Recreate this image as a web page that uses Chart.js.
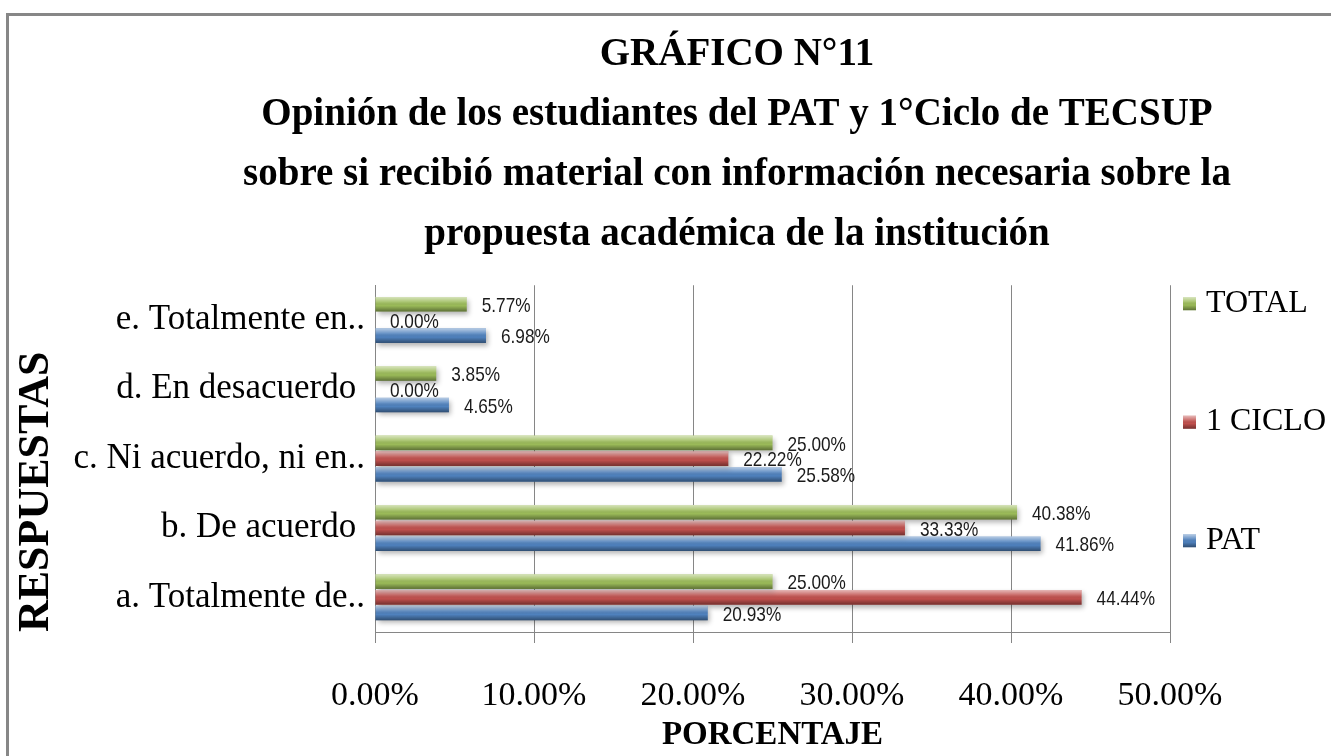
<!DOCTYPE html>
<html lang="es">
<head>
<meta charset="utf-8">
<title>Gráfico N°11</title>
<script src="https://cdn.jsdelivr.net/npm/chart.js@4.4.1/dist/chart.umd.min.js"></script>
<style>
  html, body { margin: 0; padding: 0; background: #fff; overflow: hidden; }
  .marco { position: absolute; left: 6px; top: 13px; border-top: 3px solid #878787; border-left: 3px solid #878787; }
  canvas { display: block; }
</style>
</head>
<body>
<div class="marco"><canvas id="grafico" width="1456" height="760"></canvas></div>
<script>
// datos del gráfico (de arriba hacia abajo, como en la figura)
const TITULO = [
  'GRÁFICO N°11',
  'Opinión de los estudiantes del PAT y 1°Ciclo de TECSUP',
  'sobre si recibió material con información necesaria sobre la',
  'propuesta académica de la institución'
];
const RESPUESTAS = ['e. Totalmente en..', 'd. En desacuerdo ', 'c. Ni acuerdo, ni en..', 'b. De acuerdo ', 'a. Totalmente de..'];
const SERIES = ['TOTAL', '1 CICLO', 'PAT'];
const TOTAL = [5.77, 3.85, 25.00, 40.38, 25.00];
const CICLO1 = [0.00, 0.00, 22.22, 33.33, 44.44];
const PAT = [6.98, 4.65, 25.58, 41.86, 20.93];
const TICKS_X = [0, 10, 20, 30, 40, 50];
const COLORES = ['#9bbb59', '#c0504d', '#4f81bd'];

const SERIF = "'Liberation Serif', 'Times New Roman', serif";
const SANS = "'Liberation Sans', Arial, sans-serif";

// brillo tipo Office 2007 encima de una barra
function brillo(c, x0, top, w, h) {
  const g = c.createLinearGradient(0, top, 0, top + h);
  g.addColorStop(0, 'rgba(255,255,255,.6)');
  g.addColorStop(.35, 'rgba(255,255,255,.15)');
  g.addColorStop(.6, 'rgba(0,0,0,0)');
  g.addColorStop(1, 'rgba(0,0,0,.4)');
  c.fillStyle = g;
  c.fillRect(x0, top, w, h);
}

const relieve = {
  id: 'relieve',
  beforeDatasetsDraw(chart) {
    const c = chart.ctx;
    c.save();
    c.shadowColor = 'rgba(0,0,0,.3)';
    c.shadowBlur = 5;
    c.shadowOffsetX = 2;
    c.shadowOffsetY = 3;
  },
  afterDatasetsDraw(chart) {
    const c = chart.ctx;
    c.restore();
    c.save();
    chart.data.datasets.forEach((ds, i) => {
      chart.getDatasetMeta(i).data.forEach(bar => {
        const { x, y, base, height } = bar.getProps(['x', 'y', 'base', 'height'], true);
        if (x - base >= 1) brillo(c, base, y - height / 2, x - base, height);
      });
    });
    // etiquetas de valor (letra estrecha como en el original)
    c.font = '21px ' + SANS;
    c.fillStyle = '#1a1a1a';
    c.textAlign = 'left';
    c.textBaseline = 'middle';
    chart.data.datasets.forEach((ds, i) => {
      chart.getDatasetMeta(i).data.forEach((bar, j) => {
        c.save();
        c.translate(bar.x + 15, bar.y + 2);
        c.scale(0.82, 1);
        c.fillText(ds.data[j].toFixed(2) + '%', 0, 0);
        c.restore();
      });
    });
    c.restore();
  }
};

// leyenda a la derecha, espaciada como en el original
const leyenda = {
  id: 'leyenda',
  afterDraw(chart) {
    const c = chart.ctx, a = chart.chartArea;
    c.save();
    c.font = '32px ' + SERIF;
    c.textBaseline = 'middle';
    c.textAlign = 'left';
    chart.data.datasets.forEach((ds, i) => {
      const x = a.right + 13;
      const y = a.top + 18 + i * 118.5;
      c.fillStyle = ds.backgroundColor;
      c.fillRect(x, y - 6, 13, 13);
      brillo(c, x, y - 6, 13, 13);
      c.fillStyle = '#000';
      c.fillText(ds.label, x + 23, y);
    });
    c.restore();
  }
};

new Chart(document.getElementById('grafico'), {
  type: 'bar',
  data: {
    labels: RESPUESTAS,
    datasets: [
      { label: SERIES[0], data: TOTAL, backgroundColor: COLORES[0] },
      { label: SERIES[1], data: CICLO1, backgroundColor: COLORES[1] },
      { label: SERIES[2], data: PAT, backgroundColor: COLORES[2] }
    ]
  },
  options: {
    indexAxis: 'y',
    responsive: false,
    animation: false,
    datasets: { bar: { categoryPercentage: 0.68, barPercentage: 0.93, borderWidth: 0 } },
    layout: { padding: { left: 0, right: 0, top: 0, bottom: 21 } },
    plugins: {
      legend: { display: false },
      tooltip: { enabled: false },
      title: {
        display: true,
        text: TITULO,
        color: '#000',
        font: { family: SERIF, size: 39, weight: 'bold', lineHeight: 1.54 },
        padding: { top: 9, bottom: 20 }
      }
    },
    scales: {
      x: {
        min: 0, max: 50,
        afterBuildTicks: s => { s.ticks = TICKS_X.map(v => ({ value: v })); },
        afterFit: s => { s.height = 123; },
        ticks: {
          color: '#000', padding: 33,
          font: { family: SERIF, size: 34 },
          callback: v => v.toFixed(2) + '%'
        },
        grid: { color: '#868686', tickLength: 11 },
        border: { color: '#868686' },
        title: {
          display: true, text: 'PORCENTAJE', color: '#000',
          font: { family: SERIF, size: 33, weight: 'bold' },
          padding: { top: 0, bottom: 0 }
        }
      },
      y: {
        afterFit: s => { s.width = 366; },
        grid: { display: false, drawTicks: false },
        border: { display: true, color: '#868686' },
        ticks: { color: '#000', padding: 10, font: { family: SERIF, size: 35 } },
        title: {
          display: true, text: 'RESPUESTAS', color: '#000', align: 'start',
          font: { family: SERIF, size: 44, weight: 'bold' },
          padding: { top: 1, bottom: 0 }
        }
      },
      // franja vacía a la derecha donde va la leyenda
      margen: {
        axis: 'y', type: 'category', position: 'right',
        afterFit: s => { s.width = 295; },
        grid: { display: false, drawTicks: false },
        border: { display: false },
        ticks: { display: false }
      }
    }
  },
  plugins: [relieve, leyenda]
});
</script>
</body>
</html>
